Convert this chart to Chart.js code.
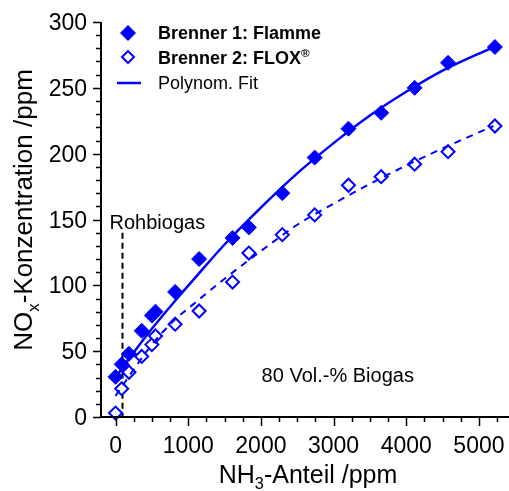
<!DOCTYPE html>
<html>
<head>
<meta charset="utf-8">
<script src="https://cdn.jsdelivr.net/npm/chart.js@4/dist/chart.umd.min.js"></script>
<style>
html,body{margin:0;padding:0;background:#fff;overflow:hidden}
canvas{display:block}
</style>
</head>
<body>
<canvas id="myChart" width="509" height="491"></canvas>
<script>
// NH3 share (ppm) of the measured points
const nh3 = [0, 85, 185, 360, 500, 550, 820, 1150, 1610, 1835, 2295, 2740, 3205, 3655, 4115, 4575, 5220];
// NOx (ppm), burner 1 (flame) and burner 2 (FLOX)
const brenner1 = [30.5, 40, 48, 65.5, 77, 80, 95, 120, 136, 144, 170, 197, 219, 231, 250, 269, 281];
const brenner2 = [3, 21.5, 34, 46, 55, 61.5, 70.5, 80.5, 102.5, 124.5, 138.5, 153.5, 176, 182.5, 192, 201.5, 221];
// polynomial fit curves
const fitX = [0, 250, 500, 800, 1100, 1500, 2000, 2500, 3000, 3500, 4000, 4500, 5200];
const fit1 = [30, 49, 67, 87, 106, 131, 159, 185, 208, 229, 247, 263, 281];
const fit2 = [16, 36, 55, 73, 87, 105, 126, 146, 162, 177, 191, 204, 221];
const xTicks = [0, 1000, 2000, 3000, 4000, 5000];
const yTicks = [0, 50, 100, 150, 200, 250, 300];
const rohbiogas = 85;

const BLUE = '#0000ff';
const FONT = '"Liberation Sans", Arial, sans-serif';

function pts(xs, ys) { return xs.map((v, i) => ({x: v, y: ys[i]})); }

// text parts with sub/superscripts, drawn from x on baseline y
function partsWidth(ctx, parts, size, weight) {
  let w = 0;
  parts.forEach(p => {
    const s = p.sub || p.sup ? size * 0.65 : size;
    ctx.font = weight + ' ' + s + 'px ' + FONT;
    w += ctx.measureText(p.t).width;
  });
  return w;
}
function drawParts(ctx, parts, x, y, size, weight) {
  parts.forEach(p => {
    const s = p.sub || p.sup ? size * 0.65 : size;
    ctx.font = weight + ' ' + s + 'px ' + FONT;
    let dy = 0;
    if (p.sub) dy = size * 0.25;
    if (p.sup) dy = -size * 0.38;
    ctx.fillText(p.t, x, y + dy);
    x += ctx.measureText(p.t).width;
  });
}

const axesPlugin = {
  id: 'axes',
  beforeDatasetsDraw(chart) {
    const {ctx, scales: {x, y}} = chart;
    ctx.save();
    ctx.strokeStyle = '#000';
    ctx.lineWidth = 2;
    ctx.setLineDash([6, 4]);
    const px = Math.round(x.getPixelForValue(rohbiogas)) + 0.5;
    ctx.beginPath();
    ctx.moveTo(px, y.getPixelForValue(140));
    ctx.lineTo(px, y.bottom);
    ctx.stroke();
    ctx.restore();
  },
  afterDraw(chart) {
    const {ctx, chartArea: a, scales: {x, y}} = chart;
    ctx.save();
    ctx.strokeStyle = '#000';
    ctx.fillStyle = '#000';
    ctx.lineWidth = 2;
    ctx.beginPath();
    ctx.moveTo(a.left, a.top);
    ctx.lineTo(a.left, a.bottom);
    ctx.lineTo(a.right + 1, a.bottom);
    ctx.stroke();

    // y ticks, minor every 10
    ctx.lineWidth = 1.5;
    ctx.beginPath();
    for (let v = 0; v <= 300; v += 10) {
      const py = Math.round(y.getPixelForValue(v)) + 0.5;
      const len = v % 50 === 0 ? 8 : 5;
      ctx.moveTo(a.left, py);
      ctx.lineTo(a.left - len, py);
    }
    // x ticks, minor every 250
    for (let v = 0; v <= 5250; v += 250) {
      const px = Math.round(x.getPixelForValue(v)) + 0.5;
      const len = v % 1000 === 0 ? 9 : 5;
      ctx.moveTo(px, a.bottom);
      ctx.lineTo(px, a.bottom + len);
    }
    ctx.stroke();

    ctx.font = '23px ' + FONT;
    ctx.textAlign = 'right';
    ctx.textBaseline = 'alphabetic';
    yTicks.forEach(v => ctx.fillText(String(v), a.left - 14, y.getPixelForValue(v) + 8));
    ctx.textAlign = 'center';
    xTicks.forEach(v => ctx.fillText(String(v), x.getPixelForValue(v), a.bottom + 36));

    // axis titles
    ctx.textAlign = 'left';
    const xt = [{t: 'NH'}, {t: '3', sub: true}, {t: '-Anteil /ppm'}];
    const xw = partsWidth(ctx, xt, 25, 'normal');
    drawParts(ctx, xt, 308 - xw / 2, 483, 25, 'normal');

    const yt = [{t: 'NO'}, {t: 'x', sub: true}, {t: '-Konzentration /ppm'}];
    const yw = partsWidth(ctx, yt, 26, 'normal');
    ctx.save();
    ctx.translate(32, 210);
    ctx.rotate(-Math.PI / 2);
    drawParts(ctx, yt, -yw / 2, 0, 26, 'normal');
    ctx.restore();

    // annotations
    ctx.font = '20px ' + FONT;
    ctx.fillText('Rohbiogas', x.getPixelForValue(-83), y.getPixelForValue(143));
    ctx.fillText('80 Vol.-% Biogas', x.getPixelForValue(2010), y.getPixelForValue(26.6));

    // legend
    ctx.fillStyle = BLUE;
    ctx.strokeStyle = BLUE;
    ctx.setLineDash([]);
    ctx.beginPath();
    ctx.moveTo(128, 25); ctx.lineTo(136, 33); ctx.lineTo(128, 41); ctx.lineTo(120, 33); ctx.closePath();
    ctx.fill();
    ctx.lineWidth = 2;
    ctx.beginPath();
    ctx.moveTo(128, 51); ctx.lineTo(134, 57); ctx.lineTo(128, 63); ctx.lineTo(122, 57); ctx.closePath();
    ctx.stroke();
    ctx.lineWidth = 2.5;
    ctx.beginPath();
    ctx.moveTo(117, 83); ctx.lineTo(141, 83);
    ctx.stroke();

    ctx.fillStyle = '#000';
    drawParts(ctx, [{t: 'Brenner 1: Flamme'}], 158, 39, 18, 'bold');
    drawParts(ctx, [{t: 'Brenner 2: FLOX'}, {t: '®', sup: true}], 158, 64, 18, 'bold');
    drawParts(ctx, [{t: 'Polynom. Fit'}], 158, 89, 18, 'normal');
    ctx.restore();
  }
};

const ctx = document.getElementById('myChart');
new Chart(ctx, {
  type: 'scatter',
  data: {
    datasets: [{
      label: 'Brenner 1: Flamme',
      data: pts(nh3, brenner1),
      pointStyle: 'rectRot',
      pointRadius: 7.5,
      backgroundColor: BLUE,
      borderColor: BLUE,
      borderWidth: 1,
      clip: false,
      order: 2
    }, {
      label: 'Brenner 2: FLOX',
      data: pts(nh3, brenner2),
      pointStyle: 'rectRot',
      pointRadius: 6.5,
      backgroundColor: '#fff',
      borderColor: BLUE,
      borderWidth: 2,
      clip: false,
      order: 2
    }, {
      label: 'Polynom. Fit',
      type: 'line',
      data: pts(fitX, fit1),
      borderColor: BLUE,
      borderWidth: 2.5,
      pointRadius: 0,
      cubicInterpolationMode: 'monotone',
      fill: false,
      order: 1
    }, {
      label: 'Fit 2',
      type: 'line',
      data: pts(fitX, fit2),
      borderColor: BLUE,
      borderWidth: 2,
      borderDash: [7, 6],
      pointRadius: 0,
      cubicInterpolationMode: 'monotone',
      fill: false,
      order: 1
    }]
  },
  options: {
    responsive: false,
    animation: false,
    layout: {autoPadding: false, padding: {left: 101, top: 22, right: 1, bottom: 74}},
    scales: {
      x: {type: 'linear', display: false, min: -200, max: 5400},
      y: {type: 'linear', display: false, min: 0, max: 300}
    },
    plugins: {legend: {display: false}, tooltip: {enabled: false}}
  },
  plugins: [axesPlugin]
});
</script>
</body>
</html>
